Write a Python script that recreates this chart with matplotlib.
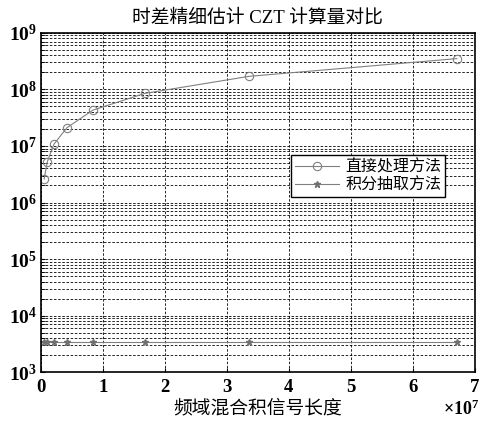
import matplotlib
matplotlib.use('Agg')
import matplotlib.pyplot as plt
from matplotlib.ticker import FixedLocator, FixedFormatter, LogLocator, NullFormatter

# signal lengths 2^19 .. 2^26
n_len = [524288, 1048576, 2097152, 4194304, 8388608, 16777216, 33554432, 67108864]
direct_cost = [2.6e6, 5.3e6, 1.07e7, 2.1e7, 4.3e7, 8.5e7, 1.7e8, 3.5e8]
decim_cost = [3400, 3400, 3400, 3400, 3400, 3400, 3400, 3400]
series_names = ['直接处理方法', '积分抽取方法']
x_ticks = [0, 1e7, 2e7, 3e7, 4e7, 5e7, 6e7, 7e7]
x_labels = ['0', '1', '2', '3', '4', '5', '6', '7']
y_ticks = [1e3, 1e4, 1e5, 1e6, 1e7, 1e8, 1e9]
y_labels = ['$10^{3}$', '$10^{4}$', '$10^{5}$', '$10^{6}$', '$10^{7}$', '$10^{8}$', '$10^{9}$']

plt.rcParams['mathtext.fontset'] = 'custom'
plt.rcParams['mathtext.rm'] = 'Liberation Serif:bold'
plt.rcParams['mathtext.it'] = 'Liberation Serif:bold'
cjk = ['Noto Sans CJK SC', 'DejaVu Sans']
serif = 'Liberation Serif'

fig = plt.figure(figsize=(4.81, 4.21), dpi=100)
ax = fig.add_axes([0.085, 0.116, 0.902, 0.806])

ax.plot(n_len, direct_cost, '-o', color='#808080', lw=0.8, ms=6,
        mfc='none', mec='#808080', mew=0.8, label=series_names[0])
ax.plot(n_len, decim_cost, '-*', color='#808080', lw=0.8, ms=4.5,
        mfc='#707070', mec='#707070', label=series_names[1])

ax.set_yscale('log')
ax.set_xlim(0, 7e7)
ax.set_ylim(1e3, 1e9)
ax.xaxis.set_major_locator(FixedLocator(x_ticks))
ax.xaxis.set_major_formatter(FixedFormatter(x_labels))
ax.yaxis.set_major_locator(FixedLocator(y_ticks))
ax.yaxis.set_major_formatter(FixedFormatter(y_labels))
ax.yaxis.set_minor_locator(LogLocator(base=10, subs=range(2, 10), numticks=20))
ax.yaxis.set_minor_formatter(NullFormatter())
for lab in ax.get_xticklabels():
    lab.set_fontfamily(serif)
    lab.set_fontweight('bold')
    lab.set_fontsize(13.5)
ax.tick_params(axis='y', labelsize=14, pad=3)
ax.tick_params(axis='x', pad=5)
ax.tick_params(which='both', direction='in', length=3)

ax.yaxis.grid(True, which='both', linestyle=(0, (3, 2)), color='k', lw=0.6)
ax.xaxis.grid(True, which='major', linestyle=(0, (3, 2)), color='k', lw=0.6)
for s in ax.spines.values():
    s.set_linewidth(1.2)

ax.set_title('时差精细估计 CZT 计算量对比', family=[serif] + cjk,
             fontsize=13.5, fontweight='medium', pad=7)
ax.set_xlabel('频域混合积信号长度', family=cjk, fontsize=13.5, labelpad=1)
fig.text(0.996, 0.004, r'$\times 10^{7}$', ha='right', va='bottom', fontsize=13)

leg = ax.legend(loc='upper right', bbox_to_anchor=(0.931, 0.64), prop={'family': cjk, 'size': 11.5},
                fancybox=False, edgecolor='k', framealpha=1, borderpad=0.2,
                handlelength=2.8, handletextpad=0.4, labelspacing=0.1, borderaxespad=0)
leg.get_frame().set_linewidth(1.0)

fig.savefig('out.png', dpi=100)
